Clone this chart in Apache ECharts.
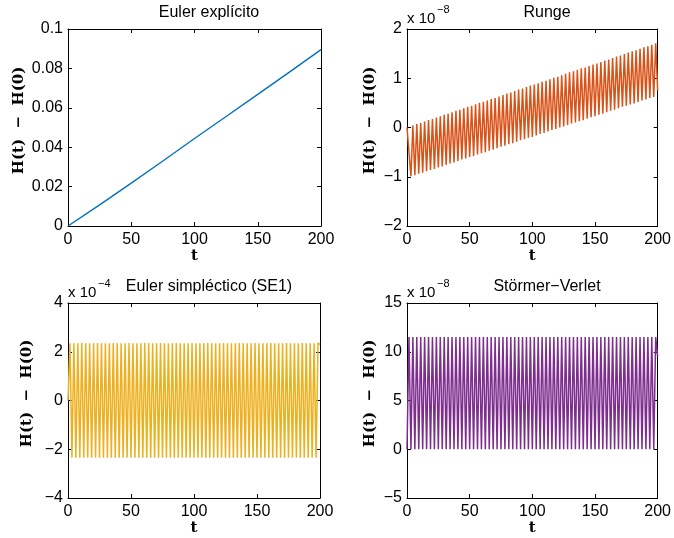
<!DOCTYPE html>
<html><head><meta charset="utf-8">
<script src="https://cdn.jsdelivr.net/npm/echarts@6/dist/echarts.min.js"></script>
<style>html,body{margin:0;padding:0;background:#fff}#c{width:674px;height:538px}</style>
</head><body><div id="c"></div>
<script>
// ---- data ----
const titles = ['Euler explícito', 'Runge', 'Euler simpléctico (SE1)', 'Störmer−Verlet'];
const exponents = [null, '−8', '−4', '−8'];
const xTicks = { min: 0, max: 200, interval: 50 };
const yTicks = [
  { min: 0, max: 0.1, interval: 0.02 },
  { min: -2, max: 2, interval: 1 },
  { min: -4, max: 4, interval: 2 },
  { min: -5, max: 15, interval: 5 }
];
const eulerT = [0, 25, 50, 75, 100, 125, 150, 175, 200];
const eulerVals = [0, 0.0107, 0.0218, 0.0330, 0.0444, 0.0556, 0.0668, 0.0781, 0.0895];

const tSamples = [
  0, 1.56, 3.13, 4.69, 6.25, 7.81, 9.38, 10.94, 12.5, 14.06, 15.63, 17.19, 18.75, 20.31, 21.88, 23.44,
  25, 26.56, 28.13, 29.69, 31.25, 32.81, 34.38, 35.94, 37.5, 39.06, 40.63, 42.19, 43.75, 45.31, 46.88, 48.44,
  50, 51.56, 53.13, 54.69, 56.25, 57.81, 59.38, 60.94, 62.5, 64.06, 65.63, 67.19, 68.75, 70.31, 71.88, 73.44,
  75, 76.56, 78.13, 79.69, 81.25, 82.81, 84.38, 85.94, 87.5, 89.06, 90.63, 92.19, 93.75, 95.31, 96.88, 98.44,
  100, 101.56, 103.13, 104.69, 106.25, 107.81, 109.38, 110.94, 112.5, 114.06, 115.63, 117.19, 118.75, 120.31, 121.88, 123.44,
  125, 126.56, 128.13, 129.69, 131.25, 132.81, 134.38, 135.94, 137.5, 139.06, 140.63, 142.19, 143.75, 145.31, 146.88, 148.44,
  150, 151.56, 153.13, 154.69, 156.25, 157.81, 159.38, 160.94, 162.5, 164.06, 165.63, 167.19, 168.75, 170.31, 171.88, 173.44,
  175, 176.56, 178.13, 179.69, 181.25, 182.81, 184.38, 185.94, 187.5, 189.06, 190.63, 192.19, 193.75, 195.31, 196.88, 198.44,
  200
];

// Runge (x 1e-8)
const rungeStart = 0, rungeEnd = 0.75;
const rungePeaks = [
  0.01, 0.04, 0.07, 0.09, 0.12, 0.15, 0.17, 0.20, 0.23, 0.26, 0.28, 0.31, 0.34, 0.36, 0.39, 0.42,
  0.44, 0.47, 0.50, 0.52, 0.55, 0.58, 0.60, 0.63, 0.66, 0.69, 0.71, 0.74, 0.77, 0.79, 0.82, 0.85,
  0.87, 0.90, 0.93, 0.95, 0.98, 1.01, 1.03, 1.06, 1.09, 1.12, 1.14, 1.17, 1.20, 1.22, 1.25, 1.28,
  1.30, 1.33, 1.36, 1.38, 1.41, 1.44, 1.46, 1.49, 1.52, 1.55, 1.57, 1.60, 1.63, 1.65, 1.68, 1.71
];
const rungeTroughs = [
  -0.99, -0.97, -0.94, -0.92, -0.89, -0.86, -0.84, -0.81, -0.79, -0.76, -0.73, -0.71, -0.68, -0.65, -0.63, -0.60,
  -0.58, -0.55, -0.52, -0.50, -0.47, -0.45, -0.42, -0.39, -0.37, -0.34, -0.32, -0.29, -0.26, -0.24, -0.21, -0.19,
  -0.16, -0.13, -0.11, -0.08, -0.05, -0.03, 0.00, 0.02, 0.05, 0.08, 0.10, 0.13, 0.15, 0.18, 0.21, 0.23,
  0.26, 0.28, 0.31, 0.34, 0.36, 0.39, 0.42, 0.44, 0.47, 0.49, 0.52, 0.55, 0.57, 0.60, 0.62
];

// Euler simpléctico SE1 (x 1e-4)
const se1Start = 0, se1End = 2.3;
const se1Peaks = [
  2.35, 2.35, 2.35, 2.36, 2.35, 2.35, 2.35, 2.36, 2.35, 2.35, 2.35, 2.36, 2.35, 2.35, 2.35, 2.36,
  2.35, 2.35, 2.35, 2.36, 2.35, 2.35, 2.35, 2.36, 2.35, 2.35, 2.35, 2.36, 2.35, 2.35, 2.35, 2.36,
  2.35, 2.35, 2.35, 2.36, 2.35, 2.35, 2.35, 2.36, 2.35, 2.35, 2.35, 2.36, 2.35, 2.35, 2.35, 2.36,
  2.35, 2.35, 2.35, 2.36, 2.35, 2.35, 2.35, 2.36, 2.35, 2.35, 2.35, 2.36, 2.35, 2.35, 2.35, 2.36
];
const se1Troughs = [
  -2.35, -2.35, -2.35, -2.35, -2.35, -2.35, -2.35, -2.35, -2.35, -2.35, -2.35, -2.35, -2.35, -2.35, -2.35, -2.35,
  -2.35, -2.35, -2.35, -2.35, -2.35, -2.35, -2.35, -2.35, -2.35, -2.35, -2.35, -2.35, -2.35, -2.35, -2.35, -2.35,
  -2.35, -2.35, -2.35, -2.35, -2.35, -2.35, -2.35, -2.35, -2.35, -2.35, -2.35, -2.35, -2.35, -2.35, -2.35, -2.35,
  -2.35, -2.35, -2.35, -2.35, -2.35, -2.35, -2.35, -2.35, -2.35, -2.35, -2.35, -2.35, -2.35, -2.35, -2.35
];

// Störmer-Verlet (x 1e-8)
const svStart = 0, svEnd = 9.5;
const svPeaks = [
  11.5, 11.5, 11.5, 11.5, 11.5, 11.5, 11.5, 11.5, 11.5, 11.5, 11.5, 11.5, 11.5, 11.5, 11.5, 11.5,
  11.5, 11.5, 11.5, 11.5, 11.5, 11.5, 11.5, 11.5, 11.5, 11.5, 11.5, 11.5, 11.5, 11.5, 11.5, 11.5,
  11.5, 11.5, 11.5, 11.5, 11.5, 11.5, 11.5, 11.5, 11.5, 11.5, 11.5, 11.5, 11.5, 11.5, 11.5, 11.5,
  11.5, 11.5, 11.5, 11.5, 11.5, 11.5, 11.5, 11.5, 11.5, 11.5, 11.5, 11.5, 11.5, 11.5, 11.5, 11.5
];
const svTroughs = [
  0, 0, 0, 0, 0, 0, 0, 0, 0, 0, 0, 0, 0, 0, 0, 0,
  0, 0, 0, 0, 0, 0, 0, 0, 0, 0, 0, 0, 0, 0, 0, 0,
  0, 0, 0, 0, 0, 0, 0, 0, 0, 0, 0, 0, 0, 0, 0, 0,
  0, 0, 0, 0, 0, 0, 0, 0, 0, 0, 0, 0, 0, 0, 0
];

const colors = ['#0072BD', '#D95319', '#EDB120', '#7E2F8E'];

// ---- build ----
function interleave(start, peaks, troughs, end) {
  const out = [start];
  for (let k = 0; k < peaks.length; k++) {
    out.push(peaks[k]);
    if (k < troughs.length) out.push(troughs[k]);
  }
  out.push(end);
  return out;
}
function pairs(xs, ys) { return xs.map((x, i) => [x, ys[i]]); }

const seriesData = [
  pairs(eulerT, eulerVals),
  pairs(tSamples, interleave(rungeStart, rungePeaks, rungeTroughs, rungeEnd)),
  pairs(tSamples, interleave(se1Start, se1Peaks, se1Troughs, se1End)),
  pairs(tSamples, interleave(svStart, svPeaks, svTroughs, svEnd))
];

const grids = [
  { left: 68, top: 29, width: 253, height: 197 },
  { left: 407, top: 29, width: 252, height: 197 },
  { left: 68, top: 303, width: 252, height: 195 },
  { left: 407, top: 303, width: 252, height: 195 }
];
const titleCenters = [[204, 0], [542, 0], [204, 274], [542, 274]];
const yNameGaps = [41, 29, 33, 29];
const lineWidths = [1.4, 1.5, 1.5, 1.5];

const SANS = 'Liberation Sans, Arial, Helvetica, sans-serif';
const SERIF = 'DejaVu Serif, serif';
const line = { color: '#000', width: 1 };
const fmt = v => String(+v.toFixed(6)).replace('-', '−');

const xAxis = [], yAxis = [], series = [], title = [], graphic = [];
grids.forEach((g, i) => {
  xAxis.push({
    gridIndex: i, type: 'value', position: 'bottom', ...xTicks,
    axisLine: { onZero: false, lineStyle: line },
    axisTick: { inside: true, length: 4, lineStyle: line },
    axisLabel: { color: '#000', fontSize: 16, fontFamily: SANS, margin: 6, showMinLabel: true, showMaxLabel: true },
    splitLine: { show: false },
    name: 't', nameLocation: 'middle', nameGap: 21,
    nameTextStyle: { color: '#000', fontFamily: SERIF, fontWeight: 'bold', fontSize: 15 }
  });
  xAxis.push({
    gridIndex: i, type: 'value', position: 'top', ...xTicks,
    axisLine: { onZero: false, lineStyle: line },
    axisTick: { inside: true, length: 4, lineStyle: line },
    axisLabel: { show: false }, splitLine: { show: false }
  });
  yAxis.push({
    gridIndex: i, type: 'value', position: 'left', ...yTicks[i],
    axisLine: { onZero: false, lineStyle: line },
    axisTick: { inside: true, length: 4, lineStyle: line },
    axisLabel: { color: '#000', fontSize: 16, fontFamily: SANS, margin: 5, formatter: fmt, showMinLabel: true, showMaxLabel: true },
    splitLine: { show: false },
    name: 'H(t)  −  H(0)', nameLocation: 'middle', nameRotate: 90, nameGap: yNameGaps[i],
    nameTextStyle: { color: '#000', fontFamily: SERIF, fontWeight: 'bold', fontSize: 15, padding: [0, 0, 0, 14] }
  });
  yAxis.push({
    gridIndex: i, type: 'value', position: 'right', ...yTicks[i],
    axisLine: { onZero: false, lineStyle: line },
    axisTick: { inside: true, length: 4, lineStyle: line },
    axisLabel: { show: false }, splitLine: { show: false }
  });
  series.push({
    type: 'line', xAxisIndex: 2 * i, yAxisIndex: 2 * i, data: seriesData[i],
    showSymbol: false, symbol: 'none', lineStyle: { color: colors[i], width: lineWidths[i] }, z: 1
  });
  title.push({
    text: titles[i], left: titleCenters[i][0], top: titleCenters[i][1], textAlign: 'center',
    textStyle: { color: '#000', fontFamily: SANS, fontWeight: 'normal', fontSize: 16 }
  });
  if (exponents[i]) {
    graphic.push({ type: 'text', left: g.left, top: g.top - 18,
      style: { text: 'x 10', fill: '#000', font: '15px ' + SANS } });
    graphic.push({ type: 'text', left: g.left + 30, top: g.top - 25,
      style: { text: exponents[i], fill: '#000', font: '11px ' + SANS } });
  }
});

const chart = echarts.init(document.getElementById('c'), null, { renderer: 'canvas' });
chart.setOption({ animation: false, backgroundColor: '#fff', grid: grids, xAxis, yAxis, series, title, graphic });
</script></body></html>
